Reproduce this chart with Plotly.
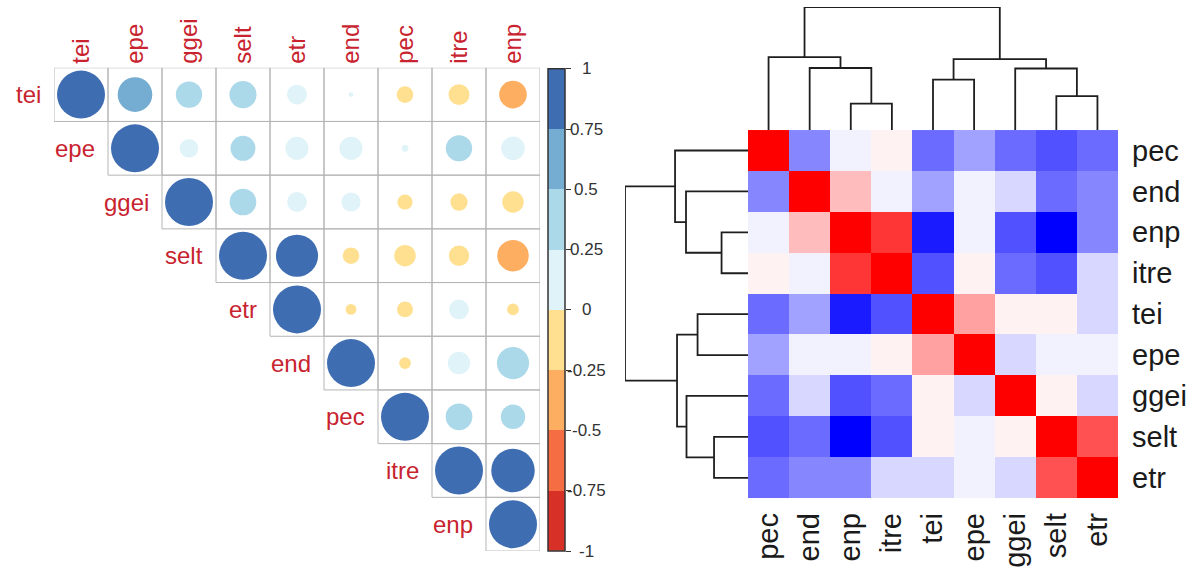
import numpy as np
import plotly.graph_objects as go

W, H = 1196, 568

# ---------------- data ----------------
variables = ["tei", "epe", "ggei", "selt", "etr", "end", "pec", "itre", "enp"]
# upper-triangle correlation rows (from the diagonal rightwards)
r_tei = [1, 0.52, 0.30, 0.32, 0.17, 0.01, -0.12, -0.19, -0.33]
r_epe = [1, 0.15, 0.27, 0.23, 0.23, 0.02, 0.30, 0.24]
r_ggei = [1, 0.31, 0.17, 0.16, -0.10, -0.13, -0.20]
r_selt = [1, 0.77, -0.12, -0.20, -0.18, -0.43]
r_etr = [1, -0.05, -0.11, 0.17, -0.06]
r_end = [1, -0.06, 0.22, 0.45]
r_pec = [1, 0.31, 0.26]
r_itre = [1, 0.82]
r_enp = [1]
upper_rows = [r_tei, r_epe, r_ggei, r_selt, r_etr, r_end, r_pec, r_itre, r_enp]

# hierarchical clustering (merge list: items are leaf names or earlier merge index)
linkage = [
    ("enp", "itre", 0.215),
    ("selt", "etr", 0.276),
    ("tei", "epe", 0.41),
    ("ggei", 1, 0.50),
    ("end", 0, 0.504),
    (2, 3, 0.577),
    ("pec", 4, 0.593),
    (6, 5, 1.0),
]

cb_ticks = [1, 0.75, 0.5, 0.25, 0, -0.25, -0.5, -0.75, -1]
cb_labels = ["1", "0.75", "0.5", "0.25", "0", "-0.25", "-0.5", "-0.75", "-1"]
cb_colors = ["#D73027", "#F46D43", "#FDAE61", "#FEE090",
             "#E0F3F8", "#ABD9E9", "#74ADD1", "#3E6DB1"]

# ---------------- derived ----------------
n = len(variables)
M = np.zeros((n, n))
for i, row in enumerate(upper_rows):
    for k, v in enumerate(row):
        j = i + k
        M[i, j] = v
        M[j, i] = v


def px_x(p):
    return p / W


def px_y(p):
    return 1 - p / H


FONT = "Liberation Sans, Arial, sans-serif"
LABEL_RED = "#C8232F"

fig = go.Figure()

# discrete colorscale for corrplot
cs8 = []
for k, c in enumerate(cb_colors):
    cs8.append([k / len(cb_colors), c])
    cs8.append([(k + 1) / len(cb_colors), c])

# ---- corrplot circles ----
cx, cy, cs_, cv = [], [], [], []
for i in range(n):
    for j in range(i, n):
        cx.append(j)
        cy.append(i)
        cv.append(M[i, j])
        cs_.append(48 * np.sqrt(abs(M[i, j])))
fig.add_trace(go.Scatter(
    x=cx, y=cy, mode="markers", xaxis="x", yaxis="y",
    marker=dict(size=cs_, color=cv, colorscale=cs8, cmin=-1, cmax=1,
                line=dict(width=0), opacity=1),
    hoverinfo="skip", showlegend=False))

shapes = []
for i in range(n):
    for j in range(i, n):
        shapes.append(dict(type="rect", xref="x", yref="y",
                           x0=j - 0.5, x1=j + 0.5, y0=i - 0.5, y1=i + 0.5,
                           line=dict(color="#B5B5B5", width=1), layer="below"))

annotations = []
for i, name in enumerate(variables):
    annotations.append(dict(x=i - 0.5, y=i, xref="x", yref="y", text=name,
                            showarrow=False, xanchor="right", yanchor="middle",
                            xshift=-11, font=dict(family=FONT, size=24, color=LABEL_RED)))

# ---- colour legend bar ----
cb_centers = [-1 + (k + 0.5) * 2 / len(cb_colors) for k in range(len(cb_colors))]
fig.add_trace(go.Heatmap(
    z=[[c] for c in cb_centers], y=cb_centers, x=[0], xaxis="x2", yaxis="y2",
    colorscale=cs8, zmin=-1, zmax=1, showscale=False, hoverinfo="skip"))
shapes.append(dict(type="rect", xref="x2 domain", yref="y2 domain",
                   x0=0, x1=1, y0=0, y1=1, line=dict(color="#333333", width=1.5)))
for t, lab in zip(cb_ticks, cb_labels):
    annotations.append(dict(x=px_x(586), y=t, xref="paper", yref="y2", text=lab,
                            showarrow=False, xanchor="center", yanchor="middle",
                            font=dict(family=FONT, size=17, color="#333333")))

# ---- dendrogram layout from linkage ----
def leaves_of(node):
    if isinstance(node, str):
        return [node]
    a, b, _ = linkage[node]
    return leaves_of(a) + leaves_of(b)


order = leaves_of(len(linkage) - 1)
pos = {name: k for k, name in enumerate(order)}


def node_info(node):
    if isinstance(node, str):
        return pos[node], 0.0
    a, b, h = linkage[node]
    xa, _ = node_info(a)
    xb, _ = node_info(b)
    return (xa + xb) / 2, h


seg_p, seg_h = [], []
for a, b, h in linkage:
    xa, ha = node_info(a)
    xb, hb = node_info(b)
    seg_p += [xa, xa, xb, xb, None]
    seg_h += [ha, h, h, hb, None]

LINE = dict(color="#1E1E1E", width=1.8)
fig.add_trace(go.Scatter(x=seg_p, y=seg_h, mode="lines", line=LINE,
                         xaxis="x4", yaxis="y4", hoverinfo="skip",
                         showlegend=False, cliponaxis=False))
fig.add_trace(go.Scatter(x=seg_h, y=seg_p, mode="lines", line=LINE,
                         xaxis="x5", yaxis="y5", hoverinfo="skip",
                         showlegend=False, cliponaxis=False))

# ---- heatmap ----
idx = [variables.index(v) for v in order]
Z = M[np.ix_(idx, idx)]
zmin, zmax = float(Z.min()), float(Z.max())
nb = 20
hm_cols = []
for k in range(nb):
    t = 2 * k / (nb - 1)
    if t <= 1:
        g = round(255 * t)
        hm_cols.append(f"rgb({g},{g},255)")
    else:
        g = round(255 * (2 - t))
        hm_cols.append(f"rgb(255,{g},{g})")
cs20 = []
for k, c in enumerate(hm_cols):
    cs20.append([k / nb, c])
    cs20.append([(k + 1) / nb, c])
fig.add_trace(go.Heatmap(
    z=Z, x=list(range(n)), y=list(range(n)), xaxis="x3", yaxis="y3",
    colorscale=cs20, zmin=zmin, zmax=zmax, showscale=False, hoverinfo="skip"))

# ---------------- layout ----------------
noax = dict(showgrid=False, zeroline=False, showline=False, ticks="",
            showticklabels=False)

hm_x = [px_x(748), px_x(1118)]
hm_y = [px_y(500), px_y(130.5)]

fig.update_layout(
    width=W, height=H, margin=dict(l=0, r=0, t=0, b=0),
    paper_bgcolor="white", plot_bgcolor="white",
    shapes=shapes, annotations=annotations,
    xaxis=dict(noax, domain=[px_x(54), px_x(540)], range=[-0.5, n - 0.5],
               side="top", showticklabels=True, tickmode="array",
               tickvals=list(range(n)), ticktext=variables, tickangle=-90,
               tickfont=dict(family=FONT, size=24, color=LABEL_RED),
               ticklabelstandoff=3),
    yaxis=dict(noax, domain=[px_y(553), px_y(68)], range=[n - 0.5, -0.5]),
    xaxis2=dict(noax, domain=[px_x(548), px_x(565)], range=[-0.5, 0.5], anchor="y2"),
    yaxis2=dict(noax, domain=[px_y(553), px_y(69)], range=[-1, 1], anchor="x2",
                side="right", ticks="outside", ticklen=5, tickwidth=1.2,
                tickcolor="#333333", tickmode="array", tickvals=cb_ticks),
    xaxis3=dict(noax, domain=hm_x, range=[-0.5, n - 0.5], anchor="y3",
                showticklabels=True, tickmode="array", tickvals=list(range(n)),
                ticktext=order, tickangle=-90, ticklabelstandoff=8,
                tickfont=dict(family=FONT, size=29, color="#1A1A1A")),
    yaxis3=dict(noax, domain=hm_y, range=[n - 0.5, -0.5], anchor="x3",
                side="right", showticklabels=True, tickmode="array",
                tickvals=list(range(n)), ticktext=order, ticklabelstandoff=13,
                tickfont=dict(family=FONT, size=29, color="#1A1A1A")),
    xaxis4=dict(noax, domain=hm_x, range=[-0.5, n - 0.5], anchor="y4"),
    yaxis4=dict(noax, domain=[px_y(130.5), px_y(7)], range=[0, 1], anchor="x4"),
    xaxis5=dict(noax, domain=[px_x(625), px_x(748)], range=[1, 0], anchor="y5"),
    yaxis5=dict(noax, domain=hm_y, range=[n - 0.5, -0.5], anchor="x5"),
)

fig.write_html("out.html",
               config={"displayModeBar": False},
               post_script="document.body.style.margin='0';"
                           "document.body.style.overflow='hidden';")
